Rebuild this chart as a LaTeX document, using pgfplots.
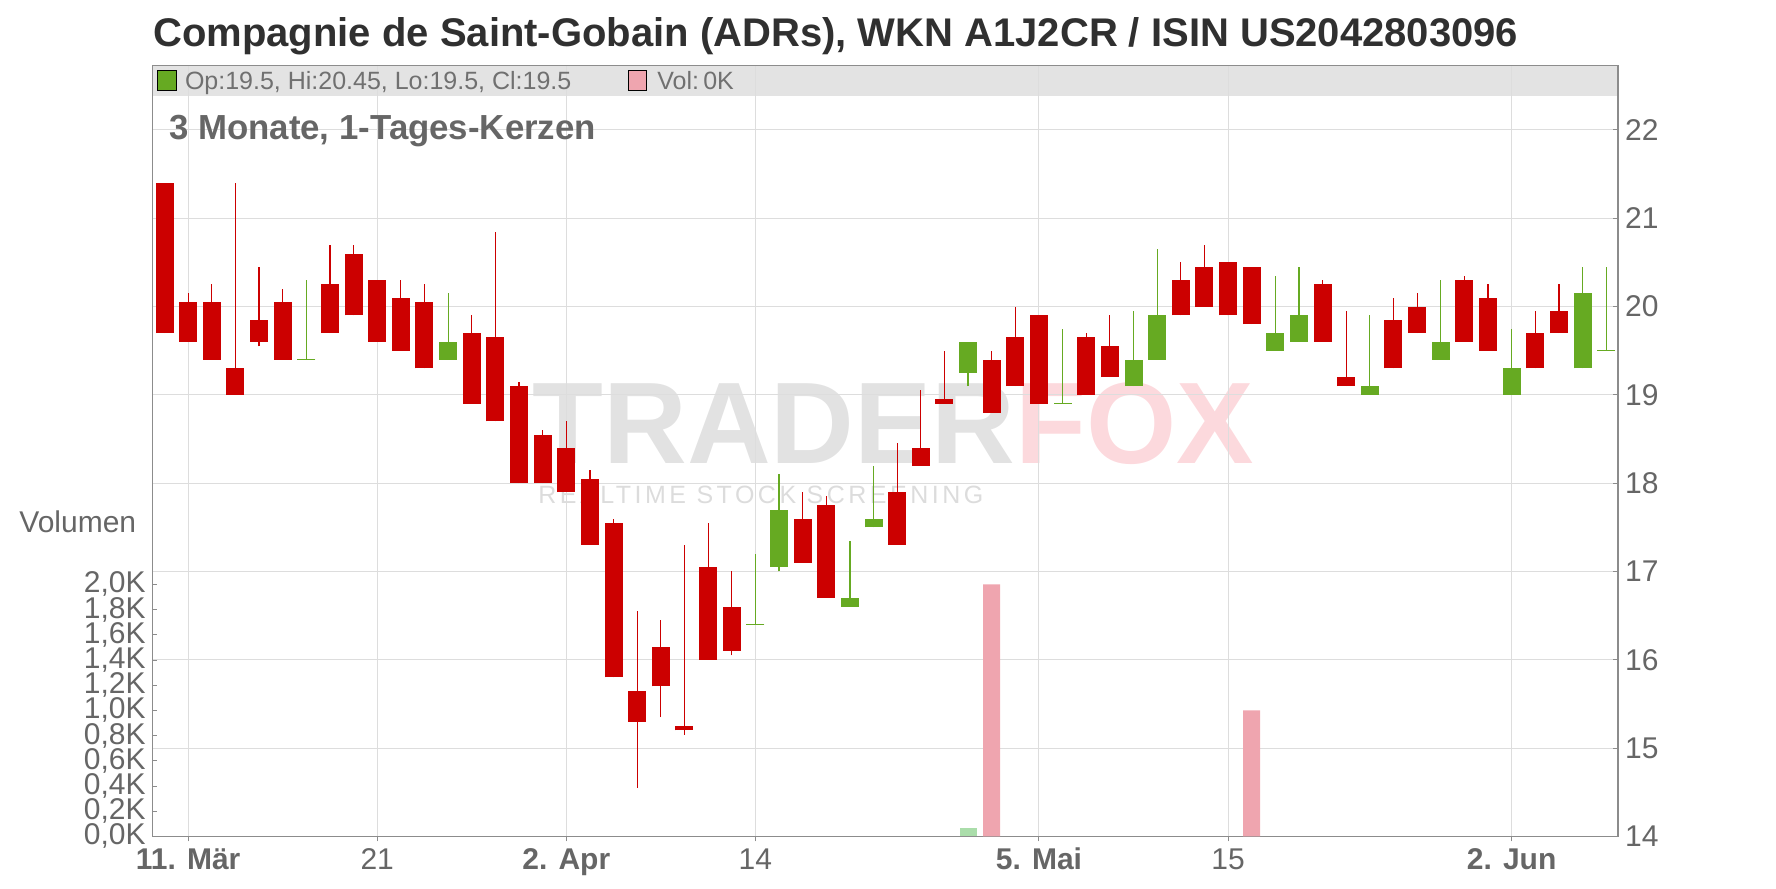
\documentclass[border=0pt]{standalone}
\usepackage{pgfplots}
\pgfplotsset{compat=1.18}
\usepackage{pgfplotstable}
\usepackage{fontspec}
\setmainfont{Liberation Sans}
\definecolor{cred}{HTML}{CC0000}
\definecolor{cgreen}{HTML}{66AA22}
\definecolor{vpink}{HTML}{EFA5AF}
\definecolor{vgreen}{HTML}{AADDAA}
\definecolor{txtgray}{HTML}{666666}
\definecolor{hdrgray}{HTML}{707070}
\definecolor{titlegray}{HTML}{303030}
\definecolor{gridgray}{HTML}{DDDDDD}
\definecolor{framegray}{HTML}{8C8C8C}
\definecolor{bandgray}{HTML}{E3E3E3}
\definecolor{wmgray}{HTML}{E2E2E2}
\definecolor{wmgraytxt}{HTML}{DCDCDC}
\definecolor{wmpink}{HTML}{FCD9DD}

% red candles: x o h l c  (close < open)
\pgfplotstableread{
x o h l c
0 21.4 21.4 19.7 19.7
1 20.05 20.15 19.6 19.6
2 20.05 20.25 19.4 19.4
3 19.3 21.4 19.0 19.0
4 19.85 20.45 19.55 19.6
5 20.05 20.2 19.4 19.4
7 20.25 20.7 19.7 19.7
8 20.6 20.7 19.9 19.9
9 20.3 20.3 19.6 19.6
10 20.1 20.3 19.5 19.5
11 20.05 20.25 19.3 19.3
13 19.7 19.9 18.9 18.9
14 19.65 20.85 18.7 18.7
15 19.1 19.15 18.0 18.0
16 18.55 18.6 18.0 18.0
17 18.4 18.7 17.9 17.9
18 18.05 18.15 17.3 17.3
19 17.55 17.6 15.8 15.8
20 15.65 16.55 14.55 15.3
21 16.15 16.45 15.35 15.7
22 15.25 17.3 15.15 15.2
23 17.05 17.55 16.0 16.0
24 16.6 17.0 16.05 16.1
27 17.6 17.9 17.1 17.1
28 17.75 17.85 16.7 16.7
31 17.9 18.45 17.3 17.3
32 18.4 19.05 18.2 18.2
33 18.95 19.5 18.9 18.9
35 19.4 19.5 18.8 18.8
36 19.65 20.0 19.1 19.1
37 19.9 19.9 18.9 18.9
39 19.65 19.7 19.0 19.0
40 19.55 19.9 19.2 19.2
43 20.3 20.5 19.9 19.9
44 20.45 20.7 20.0 20.0
45 20.5 20.5 19.9 19.9
46 20.45 20.45 19.8 19.8
49 20.25 20.3 19.6 19.6
50 19.2 19.95 19.1 19.1
52 19.85 20.1 19.3 19.3
53 20.0 20.15 19.7 19.7
55 20.3 20.35 19.6 19.6
56 20.1 20.25 19.5 19.5
58 19.7 19.95 19.3 19.3
59 19.95 20.25 19.7 19.7
}\redtab

% green candles: x o h l c  (close >= open)
\pgfplotstableread{
x o h l c
6 19.4 20.3 19.4 19.4
12 19.4 20.15 19.4 19.6
25 16.4 17.2 16.4 16.4
26 17.05 18.1 17.0 17.7
29 16.6 17.35 16.6 16.7
30 17.5 18.2 17.5 17.6
34 19.25 19.6 19.1 19.6
38 18.9 19.75 18.9 18.9
41 19.1 19.95 19.1 19.4
42 19.4 20.65 19.4 19.9
47 19.5 20.35 19.5 19.7
48 19.6 20.45 19.6 19.9
51 19.0 19.9 19.0 19.1
54 19.4 20.3 19.4 19.6
57 19.0 19.75 19.0 19.3
60 19.3 20.45 19.3 20.15
61 19.5 20.45 19.5 19.5
}\greentab

% doji candles (open = close)
\pgfplotstableread{
x y
6 19.4
25 16.4
38 18.9
61 19.5
}\dojitab

% volume
\pgfplotstableread{
x v
35 2000
46 1000
}\volred
\pgfplotstableread{
x v
34 70
}\volgreen

\begin{document}
\begin{tikzpicture}
\path[use as bounding box] (0pt,0pt) rectangle (888pt,444pt);
% header band
\fill[bandgray] (76.35pt,396.15pt) rectangle (809pt,411.15pt);
% watermark
\node[anchor=base west, inner sep=0pt, font=\fontsize{58}{60}\selectfont\bfseries] at (266pt,212pt) {\textcolor{wmgray}{TRADER}\textcolor{wmpink}{FOX}};
\node[anchor=base west, inner sep=0pt, text=wmgraytxt, font=\fontsize{12.5}{14}\selectfont\addfontfeature{LetterSpace=14}] at (269pt,192pt) {REALTIME STOCK SCREENING};

% price axis
\begin{axis}[
  at={(76.35pt,25.8pt)}, anchor=south west,
  scale only axis, width=732.65pt, height=385.35pt,
  xmin=-0.5, xmax=61.5, ymin=14, ymax=22.728,
  axis line style={framegray, line width=0.7pt},
  grid=major, major grid style={gridgray, line width=0.5pt},
  xtick={1,9,17,25,37,45,57},
  xticklabels={\textbf{11. Mär},21,\textbf{2. Apr},14,\textbf{5. Mai},15,\textbf{2. Jun}},
  ytick={14,15,...,22},
  xtick pos=bottom, ytick pos=right, yticklabel pos=right,
  tick align=inside, major tick length=2.5pt,
  tick style={framegray, line width=0.5pt},
  xtick style={yshift=-2.5pt},
  ticklabel style={font=\fontsize{15}{18}\selectfont, text=txtgray},
  xticklabel style={anchor=base, yshift=-16.5pt},
  /pgf/number format/assume math mode=true,
]
% wicks
\addplot[draw=none, mark=none, forget plot,
  error bars/.cd, y dir=plus, y explicit, error mark=none,
  error bar style={draw=cred, line width=0.6pt}]
  table[x=x, y=l, y error plus expr=\thisrow{h}-\thisrow{l}] {\redtab};
\addplot[draw=none, mark=none, forget plot,
  error bars/.cd, y dir=plus, y explicit, error mark=none,
  error bar style={draw=cgreen, line width=0.6pt}]
  table[x=x, y=l, y error plus expr=\thisrow{h}-\thisrow{l}] {\greentab};
% bodies
\addplot[draw=none, mark=none, forget plot,
  error bars/.cd, y dir=plus, y explicit, error mark=none,
  error bar style={draw=cred, line width=9pt}]
  table[x=x, y=c, y error plus expr=\thisrow{o}-\thisrow{c}] {\redtab};
\addplot[draw=none, mark=none, forget plot,
  error bars/.cd, y dir=plus, y explicit, error mark=none,
  error bar style={draw=cgreen, line width=9pt}]
  table[x=x, y=o, y error plus expr=\thisrow{c}-\thisrow{o}] {\greentab};
% doji lines
\addplot[cgreen, only marks, mark=-, mark size=4.5pt, mark options={line width=0.6pt}, forget plot]
  table[x=x, y=y] {\dojitab};
\end{axis}

% volume axis
\begin{axis}[
  at={(76.35pt,25.8pt)}, anchor=south west,
  scale only axis, width=732.65pt, height=385.35pt,
  xmin=-0.5, xmax=61.5, ymin=0, ymax=6117,
  hide x axis, axis y line*=left,
  y axis line style={framegray, line width=0.7pt},
  ytick={0,200,...,2000},
  yticklabels={{0,0K},{0,2K},{0,4K},{0,6K},{0,8K},{1,0K},{1,2K},{1,4K},{1,6K},{1,8K},{2,0K}},
  tick align=inside, major tick length=2pt,
  tick style={framegray, line width=0.5pt},
  yticklabel style={font=\fontsize{15}{15}\selectfont, text=txtgray, inner ysep=0pt},
]
\addplot[ybar, bar width=8.5pt, bar shift=0pt, fill=vpink, draw=none] table[x=x, y=v] {\volred};
\addplot[ybar, bar width=8.5pt, bar shift=0pt, fill=vgreen, draw=none] table[x=x, y=v] {\volgreen};
\end{axis}

% header legend
\filldraw[fill=cgreen, draw=black, line width=0.5pt] (78.7pt,398.7pt) rectangle (88.35pt,408.5pt);
\node[anchor=base west, inner sep=0pt, font=\fontsize{12.5}{15}\selectfont, text=hdrgray] at (92.3pt,399.15pt) {Op:19.5, Hi:20.45, Lo:19.5, Cl:19.5};
\filldraw[fill=vpink, draw=black, line width=0.5pt] (314.35pt,398.7pt) rectangle (323.4pt,408.5pt);
\node[anchor=base west, inner sep=0pt, font=\fontsize{12.5}{15}\selectfont, text=hdrgray] at (328.5pt,399.15pt) {Vol:\,0K};

% title and subtitle
\node[anchor=base west, inner sep=0pt, font=\fontsize{20}{24}\selectfont\bfseries, text=titlegray] at (76.5pt,420.65pt) {Compagnie de Saint-Gobain (ADRs), WKN A1J2CR / ISIN US2042803096};
\node[anchor=base west, inner sep=0pt, font=\fontsize{17.4}{21}\selectfont\bfseries, text=txtgray] at (84.4pt,374pt) {3 Monate, 1-Tages-Kerzen};
\node[anchor=base west, inner sep=0pt, font=\fontsize{15}{18}\selectfont, text=txtgray] at (9.5pt,177.8pt) {Volumen};
\end{tikzpicture}
\end{document}
